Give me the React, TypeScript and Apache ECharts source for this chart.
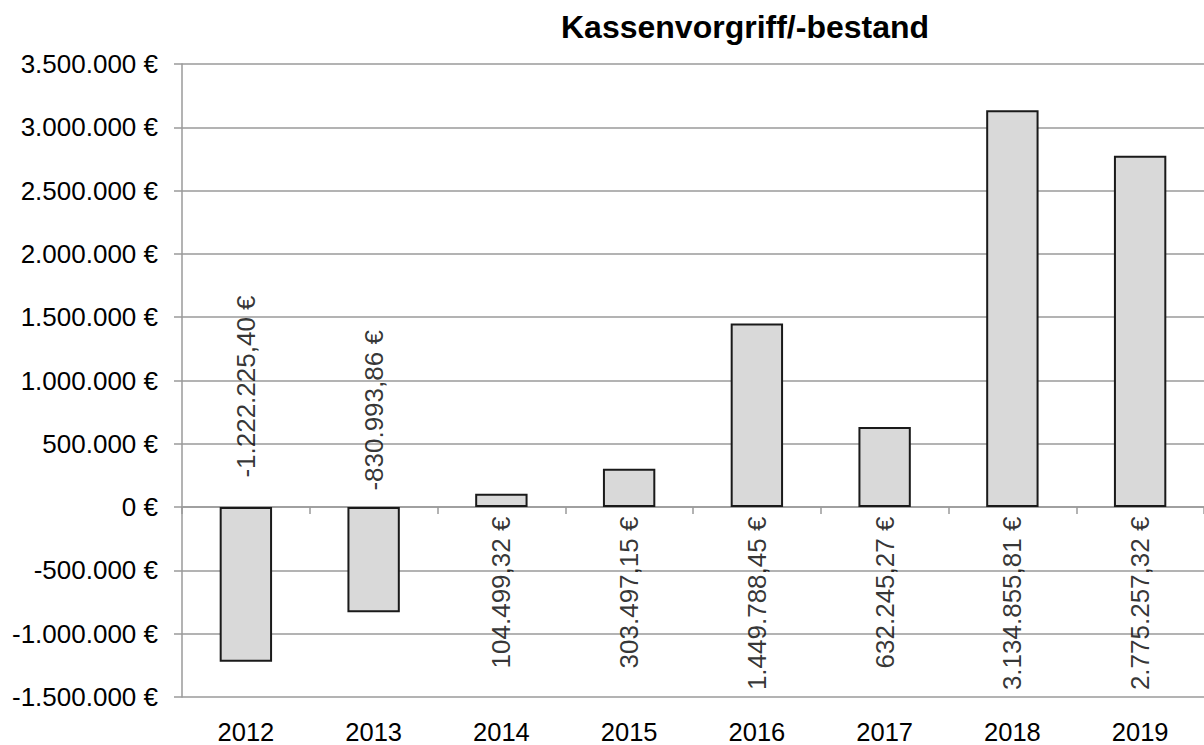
import React, { useEffect, useRef } from "react";
import * as echarts from "echarts";

const categories = ["2012", "2013", "2014", "2015", "2016", "2017", "2018", "2019"];
const values = [-1222225.40, -830993.86, 104499.32, 303497.15, 1449788.45, 632245.27, 3134855.81, 2775257.32];
const yMin = -1500000;
const yMax = 3500000;
const yInterval = 500000;
const titleText = "Kassenvorgriff/-bestand";
// distance (px) of each value label from the zero line
const labelGaps = [29, 16, 9, 9, 9, 9, 9, 9];

const FONT = "'Liberation Sans', Arial, sans-serif";

function groupThousands(s: string): string {
  return s.replace(/\B(?=(\d{3})+(?!\d))/g, ".");
}

function fmtEuro(v: number, decimals: number): string {
  const neg = v < 0;
  const abs = Math.abs(v).toFixed(decimals);
  const [intPart, decPart] = abs.split(".");
  let s = groupThousands(intPart);
  if (decPart) s += "," + decPart;
  return (neg ? "-" : "") + s + " €";
}

export default function App() {
  const ref = useRef<HTMLDivElement>(null);
  useEffect(() => {
    if (!ref.current) return;
    const chart = echarts.init(ref.current, undefined, { renderer: "svg" });
    const gridColor = "#9a9a9a";
    chart.setOption({
      animation: false,
      backgroundColor: "#ffffff",
      title: {
        text: titleText,
        left: 556,
        top: 6,
        textStyle: { fontFamily: FONT, fontSize: 32, fontWeight: "bold", color: "#000" },
      },
      grid: { left: 182, right: 0, top: 64, bottom: 42, containLabel: false },
      xAxis: [
        {
          type: "category",
          data: categories,
          position: "bottom",
          axisLine: { show: false, onZero: false },
          axisTick: { show: false },
          axisLabel: { show: true, fontFamily: FONT, fontSize: 25.5, color: "#000", margin: 22 },
          splitLine: { show: false },
        },
        {
          type: "category",
          data: categories,
          position: "bottom",
          axisLine: { show: true, onZero: true, lineStyle: { color: gridColor, width: 1.5 } },
          axisTick: { show: true, inside: false, length: 7, lineStyle: { color: gridColor, width: 1.5 } },
          axisLabel: { show: false },
          splitLine: { show: false },
        },
      ],
      yAxis: {
        type: "value",
        min: yMin,
        max: yMax,
        interval: yInterval,
        axisLine: { show: true, lineStyle: { color: gridColor, width: 1.5 } },
        axisTick: { show: true, inside: false, length: 8, lineStyle: { color: gridColor, width: 1.5 } },
        axisLabel: {
          fontFamily: FONT,
          fontSize: 26,
          color: "#000",
          margin: 24,
          formatter: (v: number) => fmtEuro(v, 0),
        },
        splitLine: { show: true, lineStyle: { color: gridColor, width: 1.5 } },
      },
      series: [
        {
          type: "bar",
          xAxisIndex: 0,
          data: values,
          barWidth: "41%",
          itemStyle: { color: "#d9d9d9", borderColor: "#1a1a1a", borderWidth: 2 },
          label: { show: false },
          z: 2,
        },
        {
          type: "scatter",
          xAxisIndex: 0,
          symbol: "circle",
          symbolSize: 1,
          itemStyle: { color: "rgba(0,0,0,0)" },
          z: 3,
          data: values.map((v, i) => ({
            value: [i, 0],
            label: {
              show: true,
              position: v < 0 ? "top" : "bottom",
              distance: labelGaps[i],
              rotate: 90,
              align: v < 0 ? "left" : "right",
              verticalAlign: "middle",
              fontFamily: FONT,
              fontSize: 26,
              color: "#000",
              formatter: () => fmtEuro(v, 2),
            },
          })),
        },
      ],
    });
    return () => chart.dispose();
  }, []);
  return (
    <div
      ref={ref}
      style={{ position: "fixed", left: 0, top: 0, width: "1204px", height: "745px" }}
    />
  );
}
